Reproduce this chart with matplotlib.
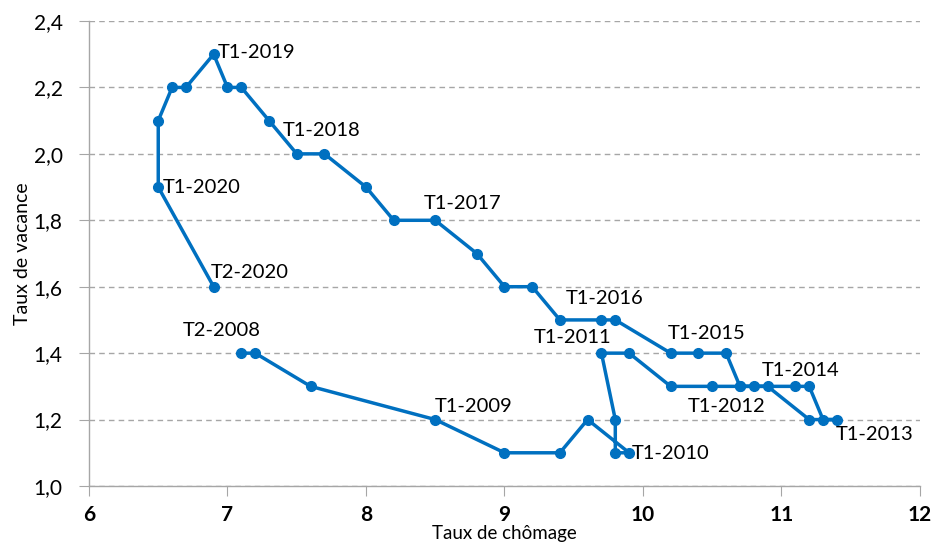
import matplotlib
matplotlib.use("Agg")
from matplotlib import pyplot as plt
from matplotlib.ticker import FuncFormatter

# unemployment rate (x) and vacancy rate (y), quarterly path T2-2008 -> T2-2020
chomage = [7.1, 7.2, 7.6, 8.5, 9.0, 9.4, 9.6, 9.9, 9.8, 9.8, 9.7, 9.9, 10.2, 10.5,
           10.7, 10.8, 10.9, 11.2, 11.4, 11.3, 11.2, 11.1, 10.7, 10.6, 10.4, 10.2,
           9.8, 9.7, 9.4, 9.2, 9.0, 8.8, 8.5, 8.2, 8.0, 7.7, 7.5, 7.3, 7.1, 7.0,
           6.9, 6.7, 6.6, 6.5, 6.5, 6.9]
vacance = [1.4, 1.4, 1.3, 1.2, 1.1, 1.1, 1.2, 1.1, 1.1, 1.2, 1.4, 1.4, 1.3, 1.3,
           1.3, 1.3, 1.3, 1.2, 1.2, 1.2, 1.3, 1.3, 1.3, 1.4, 1.4, 1.4,
           1.5, 1.5, 1.5, 1.6, 1.6, 1.7, 1.8, 1.8, 1.9, 2.0, 2.0, 2.1, 2.2, 2.2,
           2.3, 2.2, 2.2, 2.1, 1.9, 1.6]

# quarter labels and where their text sits (left edge, vertical centre)
labels = ["T2-2008", "T1-2009", "T1-2010", "T1-2011", "T1-2012", "T1-2013", "T1-2014",
          "T1-2015", "T1-2016", "T1-2017", "T1-2018", "T1-2019", "T1-2020", "T2-2020"]
label_x = [6.68, 8.50, 9.92, 9.21, 10.32, 11.39, 10.86, 10.18, 9.44, 8.42, 7.40, 6.93, 6.53, 6.88]
label_y = [1.467, 1.238, 1.099, 1.446, 1.238, 1.154, 1.349, 1.458, 1.566, 1.852, 2.069, 2.304, 1.900, 1.642]

x_ticks = [6, 7, 8, 9, 10, 11, 12]
y_ticks = [1.0, 1.2, 1.4, 1.6, 1.8, 2.0, 2.2, 2.4]

plt.rcParams['font.family'] = ['Lato', 'DejaVu Sans']

fig = plt.figure(figsize=(9.34, 5.45), dpi=100)
ax = fig.add_axes([89 / 934, 1 - 486 / 545, (920 - 89) / 934, (486 - 21) / 545])

blue = '#0070C0'
ax.plot(chomage, vacance, color=blue, lw=2.5, marker='o', ms=7, zorder=3)

for txt, tx, ty in zip(labels, label_x, label_y):
    ax.text(tx, ty, txt, fontsize=14.5, ha='left', va='center', color='black', zorder=4)

ax.set_xlim(6, 12)
ax.set_ylim(1.0, 2.4)
ax.set_xticks(x_ticks)
ax.set_yticks(y_ticks)
ax.yaxis.set_major_formatter(FuncFormatter(lambda v, p: f"{v:.1f}".replace('.', ',')))

for lbl in ax.get_xticklabels():
    lbl.set_fontweight('bold')
    lbl.set_fontsize(15)
for lbl in ax.get_yticklabels():
    lbl.set_fontsize(15)

ax.grid(axis='y', color='#A6A6A6', linestyle=(0, (4, 3)), linewidth=1)
ax.set_axisbelow(True)
for s in ['top', 'right']:
    ax.spines[s].set_visible(False)
for s in ['left', 'bottom']:
    ax.spines[s].set_color('#A6A6A6')
    ax.spines[s].set_linewidth(1)
ax.tick_params(axis='both', direction='out', length=7, color='#A6A6A6')
ax.tick_params(axis='x', pad=7)
ax.tick_params(axis='y', pad=12)

ax.set_xlabel('Taux de chômage', fontsize=13.5, labelpad=0)
ax.set_ylabel('Taux de vacance', fontsize=14, labelpad=2)

fig.savefig('out.png', dpi=100)
